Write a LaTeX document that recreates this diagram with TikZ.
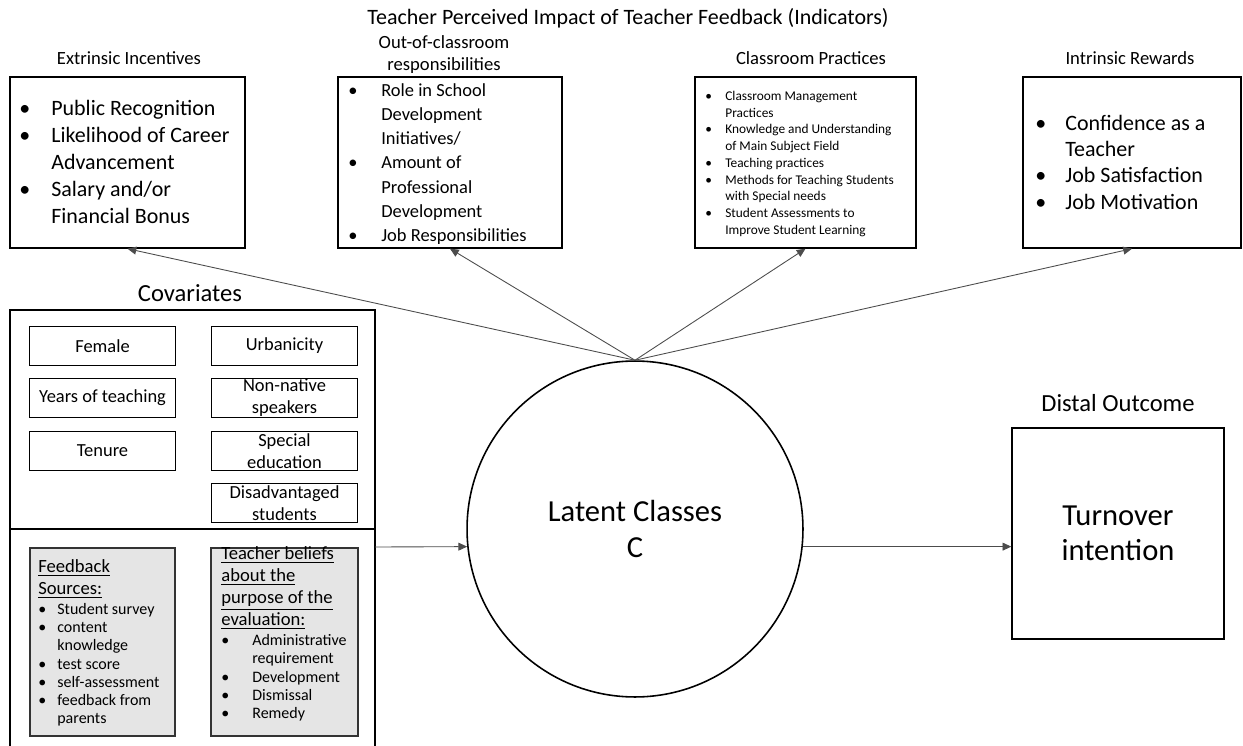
\documentclass[tikz,border=0pt]{standalone}
\usepackage{fontspec}
\setmainfont{Carlito}
\usetikzlibrary{arrows.meta,positioning}

\newcommand{\fsz}[2]{\fontsize{#1}{#2}\selectfont}

\tikzset{
  topbox/.style={draw,line width=0.8pt,minimum height=3.42cm,inner sep=0pt},
  covbox/.style={draw,line width=0.6pt,minimum height=0.78cm,align=center,inner sep=0pt,font=\fsz{10.5}{12.5}},
  graybox/.style={draw=black!80,fill=gris,line width=0.8pt,minimum height=3.76cm,inner sep=0pt},
  lista/.style={anchor=west,inner sep=0pt,align=left},
  head/.style={font=\fsz{10.6}{12.5}},
  flecha/.style={-{Triangle[length=5pt,width=4.5pt]},line width=0.5pt,linea}
}

\begin{document}
\begin{tikzpicture}[x=0.02cm,y=-0.02cm]
        %colores
        \colorlet{gris}{black!10}
        \colorlet{linea}{black!70}

        \useasboundingbox (0,0) rectangle (1243,746);

        % Titulo
        \node[font=\fsz{12.5}{15}] (titulo) at (628,18) {Teacher Perceived Impact of Teacher Feedback (Indicators)};

        % Indicadores, cajas de arriba
        \node[topbox,minimum width=4.7cm] (ext) at (127.5,162.5) {};
        \node[topbox,minimum width=4.48cm] (ocr) at (450,162.5) {};
        \node[topbox,minimum width=4.42cm] (cp) at (805.5,162.5) {};
        \node[topbox,minimum width=4.36cm] (ir) at (1132,162.5) {};

        \node[head] (exth) at (129,58) {Extrinsic Incentives};
        \node[head,align=center] (ocrh) at (444,55) {Out-of-classroom\\responsibilities};
        \node[head] (cph) at (811,58) {Classroom Practices};
        \node[head] (irh) at (1130,58) {Intrinsic Rewards};

        % Listas
        \node[lista] (extl) at (19,164) {\fsz{12.5}{15.4}\begin{tabular}{@{}p{0.64cm}@{}l@{}}
          \textbullet & Public Recognition\\
          \textbullet & Likelihood of Career\\
                      & Advancement\\
          \textbullet & Salary and/or\\
                      & Financial Bonus
        \end{tabular}};
        \node[lista] (ocrl) at (348,164) {\fsz{10.5}{13.8}\begin{tabular}{@{}p{0.66cm}@{}l@{}}
          \textbullet & Role in School\\
                      & Development\\
                      & Initiatives/\\
          \textbullet & Amount of\\
                      & Professional\\
                      & Development\\
          \textbullet & Job Responsibilities
        \end{tabular}};
        \node[lista] (cpl) at (705,164) {\fsz{7.6}{9.5}\begin{tabular}{@{}p{0.4cm}@{}l@{}}
          \textbullet & Classroom Management\\
                      & Practices\\
          \textbullet & Knowledge and Understanding\\
                      & of Main Subject Field\\
          \textbullet & Teaching practices\\
          \textbullet & Methods for Teaching Students\\
                      & with Special needs\\
          \textbullet & Student Assessments to\\
                      & Improve Student Learning
        \end{tabular}};
        \node[lista] (irl) at (1035,164.5) {\fsz{12.5}{15}\begin{tabular}{@{}p{0.6cm}@{}l@{}}
          \textbullet & Confidence as a\\
                      & Teacher\\
          \textbullet & Job Satisfaction\\
          \textbullet & Job Motivation
        \end{tabular}};

        % Clases latentes
        \node[circle,draw,line width=0.9pt,minimum size=6.72cm,align=center,font=\fsz{17.4}{21}] (lc) at (635,529) {Latent Classes\\C};

        % Resultado distal
        \node[draw,line width=0.8pt,minimum width=4.24cm,minimum height=4.22cm,align=center,font=\fsz{17.4}{20}] (dist) at (1118,533.5) {Turnover\\intention};
        \node[font=\fsz{14}{16}] (distlab) at ([yshift=0.48cm]dist.north) {Distal Outcome};

        % Covariables
        \node[font=\fsz{14}{16}] (covlab) at (190,293) {Covariates};
        \draw[line width=0.8pt] (10,746) -- (10,310) -- (375,310) -- (375,746);
        \draw[line width=1.2pt] (10,529) -- (375,529);
        \coordinate (covout) at (375,547);

        \foreach \nom/\x/\y/\txt in {fem/102.5/346/Female, yrs/102.5/398/Years of teaching, ten/102.5/451/Tenure,
                urb/284.5/346/Urbanicity, nns/284.5/398/{Non-native\\speakers},
                spe/284.5/451/{Special\\education}, dis/284.5/503/{Disadvantaged\\students}}
            \node[covbox,minimum width=2.92cm] (\nom) at (\x,\y) {\txt};

        % Cajas grises
        \node[graybox,minimum width=2.9cm] (fb) at (102.5,642) {};
        \node[graybox,minimum width=2.94cm] (tb) at (284.5,642) {};

        \node[head,anchor=west,align=left,inner sep=0pt] (fbh) at (38,579) {\underline{Feedback}\\\underline{Sources:}};
        \node[lista] (fbl) at (38,665.5) {\fsz{9.1}{10.4}\begin{tabular}{@{}p{0.38cm}@{}l@{}}
          \textbullet & Student survey\\
          \textbullet & content\\
                      & knowledge\\
          \textbullet & test score\\
          \textbullet & self-assessment\\
          \textbullet & feedback from\\
                      & parents
        \end{tabular}};

        \node[head,anchor=west,align=left,inner sep=0pt] (tbh) at (221,588) {\underline{Teacher beliefs}\\\underline{about the}\\\underline{purpose of the}\\\underline{evaluation:}};
        \node[lista] (tbl) at (221,678.5) {\fsz{9.1}{10.4}\begin{tabular}{@{}p{0.62cm}@{}l@{}}
          \textbullet & Administrative\\
                      & requirement\\
          \textbullet & Development\\
          \textbullet & Dismissal\\
          \textbullet & Remedy
        \end{tabular}};

        % Flechas
        \foreach \b in {ext,ocr,cp,ir}
            \draw[flecha] (lc.north) -- (\b.south);
        \draw[flecha] (covout) -- (lc.186);
        \draw[flecha] (lc.-6) -- (lc.-6 -| dist.west);
\end{tikzpicture}
\end{document}
